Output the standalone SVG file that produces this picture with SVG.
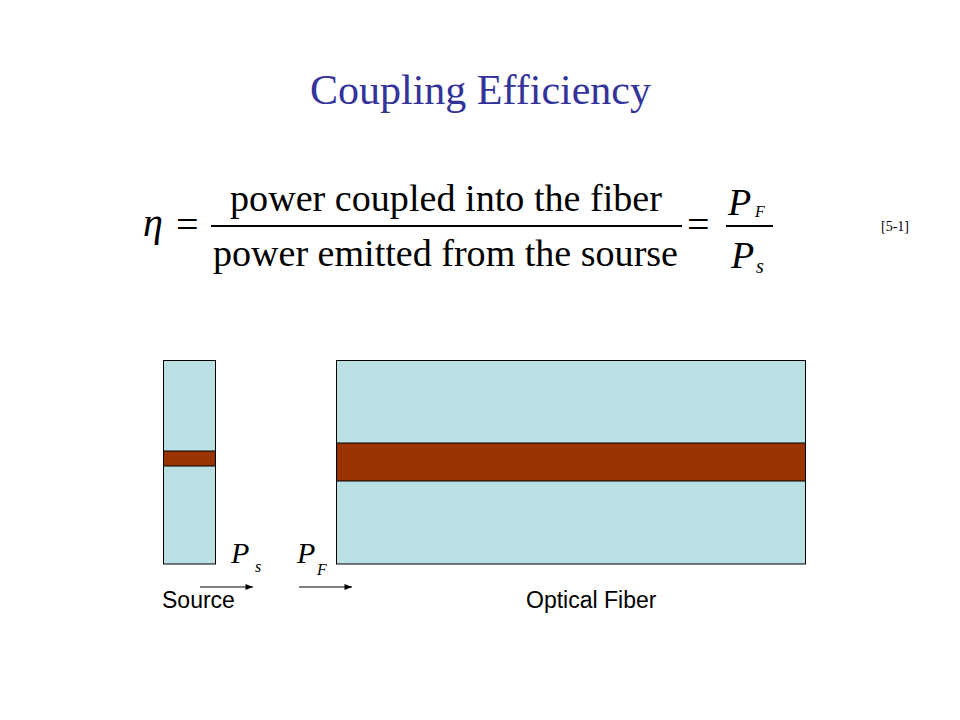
<svg xmlns="http://www.w3.org/2000/svg" width="960" height="720" viewBox="0 0 960 720">
  <style>
    .serif { font-family: "Liberation Serif", "Times New Roman", serif; fill: #000; }
    .ital { font-family: "Liberation Serif", "Times New Roman", serif; font-style: italic; fill: #000; }
    .sans { font-family: "Liberation Sans", Arial, sans-serif; fill: #000; }
    .clad { fill: #BBE0E3; stroke: #000; stroke-width: 1; }
    .core { fill: #993300; stroke: #000; stroke-width: 1; }
    .arrow { stroke: #000; stroke-width: 1; fill: none; marker-end: url(#head); }
    .bar { stroke: #000; stroke-width: 2; }
  </style>
  <defs>
    <marker id="head" viewBox="0 0 10 8" refX="10" refY="4" markerWidth="8" markerHeight="6" markerUnits="userSpaceOnUse" orient="auto">
      <path d="M0,0 L10,4 L0,8 Z" fill="#000"/>
    </marker>
  </defs>
  <rect width="960" height="720" fill="#fff"/>

  <g id="title">
    <text x="310" y="104" font-family="Liberation Serif, Times New Roman, serif" font-size="42" fill="#333399">Coupling Efficiency</text>
  </g>

  <g id="equation">
    <text class="ital" x="143" y="236" font-size="40">η</text>
    <text class="serif" x="176" y="238" font-size="40">=</text>
    <text class="serif" x="230" y="211" font-size="38" textLength="432" lengthAdjust="spacingAndGlyphs">power coupled into the fiber</text>
    <line class="bar" x1="211" y1="226" x2="682" y2="226"/>
    <text class="serif" x="213" y="266" font-size="38" textLength="465" lengthAdjust="spacingAndGlyphs">power emitted from the sourse</text>
    <text class="serif" x="687" y="238" font-size="40">=</text>
    <text class="ital" x="728" y="215" font-size="38">P</text>
    <text class="ital" x="755" y="217" font-size="16">F</text>
    <line class="bar" x1="726" y1="226" x2="773" y2="226"/>
    <text class="ital" x="731" y="268" font-size="38">P</text>
    <text class="ital" x="756" y="273" font-size="20">s</text>
  </g>

  <g id="ref">
    <text class="serif" x="881" y="231" font-size="14" fill="#333">[5-1]</text>
  </g>

  <g id="source">
    <rect class="clad" x="163.5" y="360.5" width="52" height="203.5"/>
    <rect class="core" x="163.5" y="451" width="52" height="15"/>
    <text class="sans" x="162" y="608" font-size="23">Source</text>
  </g>

  <g id="fiber">
    <rect class="clad" x="336.5" y="360.5" width="469" height="203.5"/>
    <rect class="core" x="336.5" y="443" width="469" height="38"/>
    <text class="sans" x="526" y="608" font-size="23">Optical Fiber</text>
  </g>

  <g id="connectors">
    <line class="arrow" x1="200" y1="587" x2="253" y2="587"/>
    <line class="arrow" x1="299" y1="587" x2="352" y2="587"/>
  </g>

  <g id="power-labels">
    <text class="ital" x="231" y="563" font-size="30">P</text>
    <text class="ital" x="255" y="572" font-size="16">s</text>
    <text class="ital" x="297" y="563" font-size="30">P</text>
    <text class="ital" x="317" y="575" font-size="16">F</text>
  </g>
</svg>
